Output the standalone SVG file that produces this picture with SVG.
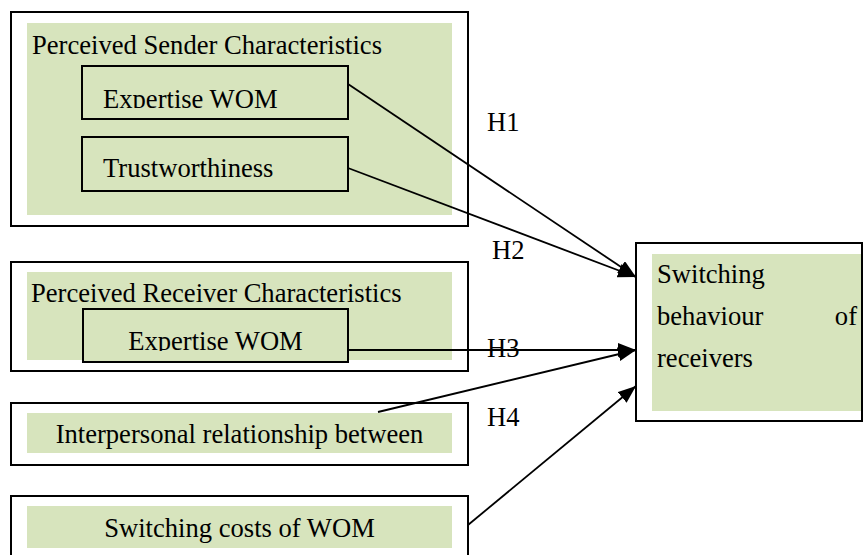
<svg xmlns="http://www.w3.org/2000/svg" width="864" height="555" viewBox="0 0 864 555">
<style>
.outer{fill:#fff;stroke:#000;stroke-width:2}
.green{fill:#d7e4bd}
.inner{fill:#d7e4bd;stroke:#000;stroke-width:2}
.t{font-family:"Liberation Serif","Times New Roman",serif;font-size:26.6px;fill:#000}
.c{stroke:#000;stroke-width:1.8;fill:none;marker-end:url(#ah)}
</style>
<defs>
<marker id="ah" markerUnits="userSpaceOnUse" markerWidth="20" markerHeight="16" refX="18" refY="7" orient="auto">
<path d="M0,0 L18,7 L0,14 Z" fill="#000"/>
</marker>
<clipPath id="c1"><rect x="82" y="66" width="266" height="42"/></clipPath>
<clipPath id="c2"><rect x="83" y="309" width="265" height="42"/></clipPath>
</defs>
<g id="sender">
<rect class="outer" x="11" y="12" width="457" height="214"/>
<rect class="green" x="27" y="23" width="425" height="192"/>
<text class="t" x="32" y="54">Perceived Sender Characteristics</text>
</g>
<g id="sender-expertise">
<rect class="inner" x="82" y="66" width="266" height="53"/>
<text class="t" x="103" y="108" clip-path="url(#c1)">Expertise WOM</text>
</g>
<g id="trustworthiness">
<rect class="inner" x="82" y="137" width="266" height="54"/>
<text class="t" x="103" y="177">Trustworthiness</text>
</g>
<g id="receiver">
<rect class="outer" x="11" y="262" width="457" height="109"/>
<rect class="green" x="27" y="272" width="425" height="88"/>
<text class="t" x="31" y="302">Perceived Receiver Characteristics</text>
</g>
<g id="receiver-expertise">
<rect class="inner" x="83" y="309" width="265" height="53"/>
<text class="t" x="215.5" y="350" text-anchor="middle" clip-path="url(#c2)">Expertise WOM</text>
</g>
<g id="interpersonal">
<rect class="outer" x="11" y="403" width="457" height="62"/>
<rect class="green" x="27" y="413" width="425" height="40"/>
<text class="t" x="239.5" y="443" text-anchor="middle">Interpersonal relationship between</text>
</g>
<g id="switching-costs">
<rect class="outer" x="11" y="496" width="457" height="70"/>
<rect class="green" x="27" y="506" width="425" height="42"/>
<text class="t" x="239.5" y="537" text-anchor="middle">Switching costs of WOM</text>
</g>
<g id="switching-behaviour">
<rect class="outer" x="636" y="243" width="226" height="178"/>
<rect class="green" x="652" y="254" width="209" height="157"/>
<text class="t" x="657" y="283">Switching</text>
<text class="t" x="657" y="325">behaviour</text>
<text class="t" x="857" y="325" text-anchor="end">of</text>
<text class="t" x="657" y="367">receivers</text>
</g>
<g id="connectors">
<line class="c" x1="348" y1="84" x2="636" y2="277"/>
<line class="c" x1="348" y1="168" x2="636" y2="277"/>
<line class="c" x1="348" y1="350" x2="636" y2="350"/>
<line class="c" x1="378" y1="412" x2="636" y2="350"/>
<line class="c" x1="468" y1="525" x2="636" y2="386"/>
<text class="t" x="487" y="131">H1</text>
<text class="t" x="492" y="259">H2</text>
<text class="t" x="487" y="357">H3</text>
<text class="t" x="487" y="426">H4</text>
</g>
</svg>
